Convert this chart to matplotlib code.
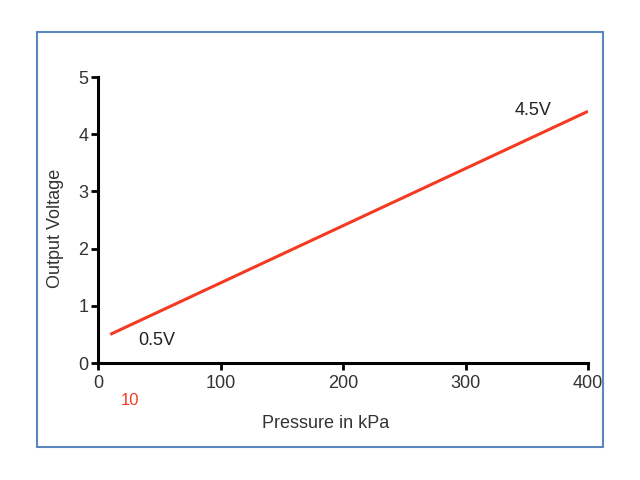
import matplotlib
matplotlib.use("Agg")
import matplotlib.pyplot as plt
from matplotlib.patches import Rectangle

plt.rcParams['font.family'] = ['Liberation Sans', 'DejaVu Sans']

pressure = [10, 400]
voltage = [0.5, 4.4]
x_ticks = [0, 100, 200, 300, 400]
y_ticks = [0, 1, 2, 3, 4, 5]

fig = plt.figure(figsize=(6.4, 4.8), dpi=100)
fig.patches.append(Rectangle((37/640, 1-447/480), 566/640, 415/480, transform=fig.transFigure,
                             fill=False, edgecolor='#5a87c0', linewidth=1.5))
ax = fig.add_axes([98/640, 1-363/480, 490/640, 286/480])
ax.plot(pressure, voltage, color='#f53a22', linewidth=2.2, solid_capstyle='butt')
ax.set_xlim(0, 400)
ax.set_ylim(0, 5)
ax.set_xticks(x_ticks)
ax.set_yticks(y_ticks)
for s in ['top', 'right']:
    ax.spines[s].set_visible(False)
for s in ['left', 'bottom']:
    ax.spines[s].set_linewidth(2.2)
ax.tick_params(axis='both', direction='out', length=5, width=2, labelsize=13, colors='black', labelcolor='#333333')
ax.tick_params(axis='x', pad=4)
ax.tick_params(axis='y', pad=2)
ax.set_xlabel('Pressure in kPa', fontsize=13, color='#333333')
ax.set_ylabel('Output Voltage', fontsize=13, color='#333333')
ax.xaxis.set_label_coords(0.465, -0.183)
ax.yaxis.set_label_coords(-0.070, 0.472)
ax.text(48, 0.39, '0.5V', fontsize=13, ha='center', va='center', color='#222222')
ax.text(355, 4.42, '4.5V', fontsize=13, ha='center', va='center', color='#222222')
ax.text(26, -0.65, '10', fontsize=12, ha='center', va='center', color='#f53a22')
fig.savefig('out.png', dpi=100)
